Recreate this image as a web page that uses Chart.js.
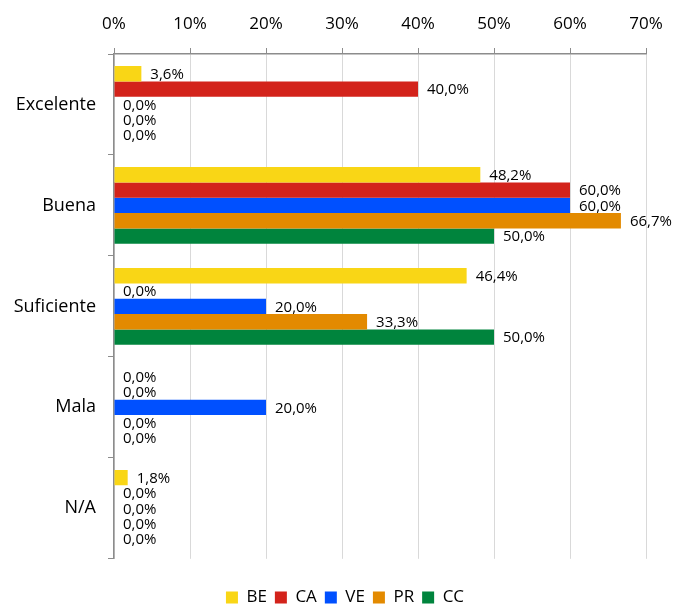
<!DOCTYPE html>
<html><head><meta charset="utf-8">
<script src="https://cdn.jsdelivr.net/npm/chart.js@4"></script>
<style>html,body{margin:0;padding:0;overflow:hidden;background:#fff;}#wrap{width:673px;height:616px;position:relative;}</style>
</head><body><div id="wrap"><canvas id="c"></canvas></div>
<script>
const categories = ["Excelente", "Buena", "Suficiente", "Mala", "N/A"];
const seriesNames = ["BE", "CA", "VE", "PR", "CC"];
const BE = [3.6, 48.2, 46.4, 0.0, 1.8];
const CA = [40.0, 60.0, 0.0, 0.0, 0.0];
const VE = [0.0, 60.0, 20.0, 20.0, 0.0];
const PR = [0.0, 66.7, 33.3, 0.0, 0.0];
const CC = [0.0, 50.0, 50.0, 0.0, 0.0];
const xTicks = [0, 10, 20, 30, 40, 50, 60, 70];
const colors = ["#F9D616", "#D3231B", "#0050FF", "#E38A00", "#00843D"];
const seriesValues = [BE, CA, VE, PR, CC];

const FONT = "'Open Sans', sans-serif";
const fmt = v => v.toFixed(1).replace('.', ',') + '%';

const labelPlugin = {
  id: 'valLabels',
  afterLayout(chart) {
    if (chart.legend) { chart.legend.left += 22; chart.legend.right += 22; }
  },
  afterDatasetsDraw(chart) {
    const ctx = chart.ctx;
    ctx.save();
    ctx.font = "15px " + FONT;
    ctx.fillStyle = "#000";
    ctx.textBaseline = 'middle';
    ctx.textAlign = 'left';
    chart.data.datasets.forEach((ds, i) => {
      const meta = chart.getDatasetMeta(i);
      meta.data.forEach((bar, j) => {
        ctx.fillText(fmt(ds.data[j]), bar.x + 9, bar.y + 1);
      });
    });
    ctx.restore();
  }
};

new Chart(document.getElementById('c'), {
  type: 'bar',
  data: {
    labels: categories,
    datasets: seriesNames.map((n, i) => ({
      label: n, data: seriesValues[i], backgroundColor: colors[i],
      borderWidth: 0, categoryPercentage: 0.76, barPercentage: 1.0
    }))
  },
  options: {
    indexAxis: 'y',
    responsive: true, maintainAspectRatio: false, animation: false,
    layout: { padding: { left: 0, right: 27, top: 0, bottom: 0 } },
    plugins: {
      legend: {
        position: 'bottom',
        title: { display: true, text: ' ', font: { size: 1 }, padding: { top: 0, bottom: 21 } },
        labels: { boxWidth: 12, boxHeight: 12, padding: 8, color: '#000', font: { family: FONT, size: 17 } }
      },
      tooltip: { enabled: false }
    },
    scales: {
      x: {
        position: 'top', min: 0, max: 70,
        afterBuildTicks: s => { s.ticks = xTicks.map(v => ({ value: v })); },
        ticks: { callback: v => v + '%', color: '#000', padding: 14, font: { family: FONT, size: 17 }, maxRotation: 0 },
        grid: { color: '#d9d9d9', tickColor: '#8c8c8c', tickLength: 6, lineWidth: 1 },
        border: { color: '#8c8c8c', width: 1.5 },
        afterFit: s => { s.height = 54; s.paddingLeft = 0; s.paddingRight = 0; }
      },
      y: {
        ticks: { color: '#000', padding: 12, font: { family: FONT, size: 18 } },
        grid: { drawOnChartArea: false, tickColor: '#8c8c8c', tickLength: 6, offset: true },
        border: { color: '#8c8c8c', width: 1.5 },
        afterFit: s => { s.width = 114; }
      }
    }
  },
  plugins: [labelPlugin]
});
</script></body></html>
